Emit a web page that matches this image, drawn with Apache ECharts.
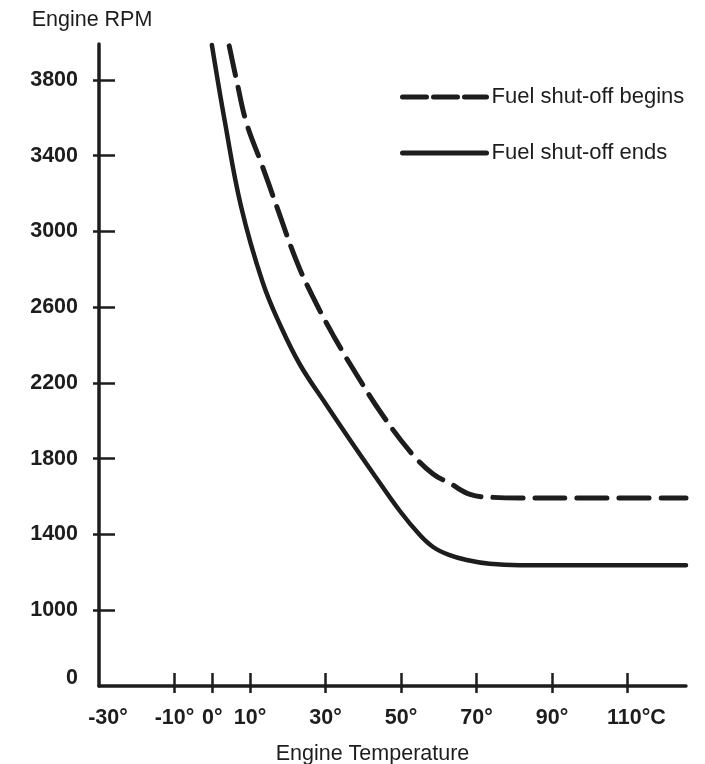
<!DOCTYPE html>
<html>
<head>
<meta charset="utf-8">
<script src="https://cdn.jsdelivr.net/npm/echarts@6/dist/echarts.min.js"></script>
<style>html,body{margin:0;padding:0;background:#fff;overflow:hidden}#c{width:705px;height:764px}</style>
</head>
<body>
<div id="c"></div>
<script>
// ---- data ----
const seriesNames = ['Fuel shut-off begins', 'Fuel shut-off ends'];
const beginsTemp = [4.5, 6.6, 9.1, 13.1, 17.1, 22.2, 26.5, 32.1, 38.3, 45.1, 52.8, 58.5, 63.0, 68.3, 74.5, 81.5, 100, 125.5];
const beginsRpm  = [3980, 3784, 3571, 3355, 3131, 2850, 2661, 2450, 2242, 2031, 1829, 1719, 1670, 1612, 1596, 1593, 1593, 1593];
const endsTemp = [-0.1, 3.4, 7.6, 13.4, 18.2, 23.3, 29.9, 36.5, 43.1, 49.7, 55.0, 58.5, 62.7, 67.4, 73.5, 81.5, 100, 125.5];
const endsRpm  = [3985, 3573, 3135, 2729, 2497, 2295, 2094, 1899, 1709, 1524, 1397, 1334, 1292, 1265, 1245, 1238, 1238, 1238];
const xTickValues = [-30, -10, 0, 10, 30, 50, 70, 90, 110];
const xTickLabels = ['-30°', '-10°', '0°', '10°', '30°', '50°', '70°', '90°', '110°C'];
const xTickMarks = [-10, 0, 10, 30, 50, 70, 90, 110];
// the axis is broken: the "0" label sits one step below 1000
const yTickValues = [600, 1000, 1400, 1800, 2200, 2600, 3000, 3400, 3800];
const yTickLabels = ['0', '1000', '1400', '1800', '2200', '2600', '3000', '3400', '3800'];
const yTickMarks = [1000, 1400, 1800, 2200, 2600, 3000, 3400, 3800];

const ink = '#1d1d1d';
const font = '"Liberation Sans", Arial, Helvetica, sans-serif';
const zip = (a, b) => a.map((v, i) => [v, b[i]]);
const lblBase = {fontSize: 21.5, fontWeight: 'bold', color: ink, fontFamily: font};

const chart = echarts.init(document.getElementById('c'), null, {renderer: 'canvas'});
const xCommon = {type: 'value', min: -30, max: 125.5, splitLine: {show: false}};
const yCommon = {type: 'value', min: 600, max: 3990, splitLine: {show: false}};
chart.setOption({
  animation: false,
  backgroundColor: '#fff',
  textStyle: {fontFamily: font, color: ink},
  grid: {left: 99, right: 19, top: 44, bottom: 78, containLabel: false, outerBoundsMode: 'none'},
  legend: {
    orient: 'vertical', left: 395, top: 81,
    itemWidth: 84, itemHeight: 22, itemGap: 34,
    itemStyle: {opacity: 0, borderWidth: 0},
    textStyle: {fontSize: 22, color: ink, fontFamily: font},
    data: [
      {name: seriesNames[0], lineStyle: {width: 5, type: [24, 7], cap: 'round', color: ink}},
      {name: seriesNames[1], lineStyle: {width: 5, type: 'solid', cap: 'round', color: ink}}
    ]
  },
  xAxis: [
    Object.assign({}, xCommon, {
      name: 'Engine Temperature', nameLocation: 'middle', nameGap: 57,
      nameTextStyle: {fontSize: 21.5, color: ink, fontFamily: font, padding: [0, 40, 0, 0]},
      axisLine: {show: true, onZero: false, lineStyle: {color: ink, width: 3.5, cap: 'round'}},
      axisTick: {show: true, inside: true, length: 13, lineStyle: {color: ink, width: 2.5}, customValues: xTickMarks},
      axisLabel: Object.assign({}, lblBase, {
        show: true, margin: 21,
        customValues: xTickValues,
        formatter: v => {
          const t = xTickLabels[xTickValues.indexOf(v)];
          return (v === -30 || v === 110) ? '{p|' + t + '}' : t;
        },
        rich: {p: Object.assign({}, lblBase, {padding: [0, 0, 0, 18]})}
      })
    }),
    Object.assign({}, xCommon, {
      position: 'bottom',
      axisLine: {show: false, onZero: false},
      axisTick: {show: true, inside: false, length: 7, lineStyle: {color: ink, width: 2.5}, customValues: xTickMarks},
      axisLabel: {show: false}
    })
  ],
  yAxis: [
    Object.assign({}, yCommon, {
      name: 'Engine RPM', nameLocation: 'end', nameGap: 13,
      nameTextStyle: {fontSize: 21.5, color: ink, fontFamily: font, align: 'center', padding: [0, 14, 0, 0]},
      axisLine: {show: true, onZero: false, lineStyle: {color: ink, width: 3.5, cap: 'round'}},
      axisTick: {show: true, inside: true, length: 16, lineStyle: {color: ink, width: 2.5}, customValues: yTickMarks},
      axisLabel: Object.assign({}, lblBase, {
        show: true, margin: 21,
        customValues: yTickValues,
        formatter: v => {
          const t = yTickLabels[yTickValues.indexOf(v)];
          return v === 600 ? '{z|' + t + '}' : t;
        },
        rich: {z: Object.assign({}, lblBase, {padding: [0, 0, 16, 0]})}
      })
    }),
    Object.assign({}, yCommon, {
      position: 'left',
      axisLine: {show: false, onZero: false},
      axisTick: {show: true, inside: false, length: 6, lineStyle: {color: ink, width: 2.5}, customValues: yTickMarks},
      axisLabel: {show: false}
    })
  ],
  series: [
    {
      name: seriesNames[0], type: 'line', symbol: 'none', smooth: 0.4,
      color: ink,
      lineStyle: {color: ink, width: 5, type: [30, 12], cap: 'round'},
      data: zip(beginsTemp, beginsRpm)
    },
    {
      name: seriesNames[1], type: 'line', symbol: 'none', smooth: 0.4,
      color: ink,
      lineStyle: {color: ink, width: 4.5, type: 'solid', cap: 'round'},
      data: zip(endsTemp, endsRpm)
    }
  ]
});
</script>
</body>
</html>
